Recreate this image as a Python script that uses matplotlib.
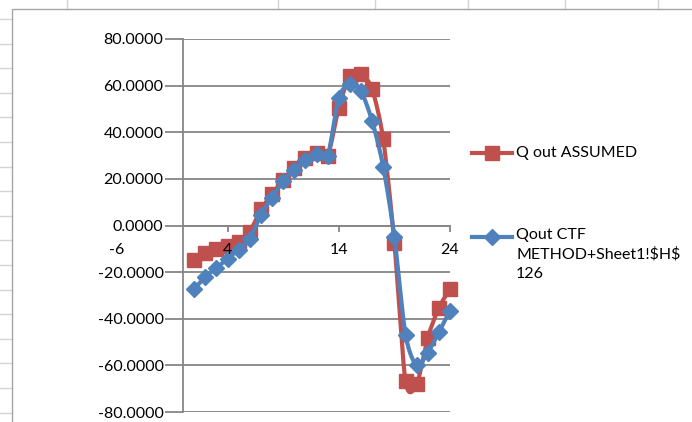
import numpy as np
import matplotlib.pyplot as plt
from matplotlib.lines import Line2D

plt.rcParams['font.family'] = ['Lato', 'DejaVu Sans']

# hourly values, hours 1..24
hours = list(range(1, 25))
q_assumed = [-14.6, -11.7, -10.0, -8.9, -7.2, -2.7, 6.9, 13.3, 19.7, 24.8, 29.0, 31.2,
             29.7, 50.5, 64.1, 65.2, 58.4, 36.9, -7.4, -66.8, -68.2, -48.2, -35.3, -27.2]
q_ctf = [-27.2, -22.0, -18.2, -14.3, -10.3, -6.0, 4.7, 11.9, 19.0, 24.0, 28.3, 30.5,
         29.7, 54.8, 60.5, 57.6, 44.8, 25.2, -4.9, -46.8, -60.0, -54.6, -45.8, -36.5]

y_ticks = [-80, -60, -40, -20, 0, 20, 40, 60, 80]
x_ticks = [-6, 4, 14, 24]

red = '#C0504D'
blue = '#4F81BD'
grid_col = '#868686'


def smooth(x, y, n=20, tension=0.8):
    # cardinal spline through the points, like a spreadsheet "smoothed line"
    x = np.asarray(x, float)
    y = np.asarray(y, float)
    px = np.r_[2 * x[0] - x[1], x, 2 * x[-1] - x[-2]]
    py = np.r_[2 * y[0] - y[1], y, 2 * y[-1] - y[-2]]
    t = np.linspace(0, 1, n, endpoint=False)
    h00 = 2 * t ** 3 - 3 * t ** 2 + 1
    h10 = t ** 3 - 2 * t ** 2 + t
    h01 = -2 * t ** 3 + 3 * t ** 2
    h11 = t ** 3 - t ** 2
    xs, ys = [], []
    for i in range(1, len(px) - 2):
        for p, out in ((px, xs), (py, ys)):
            m1 = tension * 0.5 * (p[i + 1] - p[i - 1])
            m2 = tension * 0.5 * (p[i + 2] - p[i])
            out.extend(h00 * p[i] + h10 * m1 + h01 * p[i + 1] + h11 * m2)
    xs.append(x[-1])
    ys.append(y[-1])
    return xs, ys


fig = plt.figure(figsize=(6.92, 4.22), dpi=100)

# spreadsheet cells behind the chart
for xp in [67, 278, 375, 468, 565, 658]:
    fig.add_artist(Line2D([xp / 692, xp / 692], [1, 1 - 9 / 422], color='#d4d4d4', lw=1))
for k in range(17):
    yp = 19 + k * 24.6
    fig.add_artist(Line2D([0, 12 / 692], [1 - yp / 422, 1 - yp / 422], color='#d4d4d4', lw=1))
fig.add_artist(Line2D([12 / 692, 12 / 692, 1], [0, 1 - 9 / 422, 1 - 9 / 422],
                      color='#a6a6a6', lw=1))

ax = fig.add_axes([183 / 692, 10 / 422, 267 / 692, 373 / 422])

ax.set_xlim(0, 24)
ax.set_ylim(-80, 80)
ax.set_yticks(y_ticks)
ax.set_yticklabels([f'{v:.4f}' for v in y_ticks])
ax.set_xticks([v for v in x_ticks if v >= 0])
ax.set_xticklabels([])

ax.yaxis.grid(True, color=grid_col, lw=1.3)
ax.set_axisbelow(True)
for s in ['top', 'right']:
    ax.spines[s].set_visible(False)
ax.spines['bottom'].set_position(('data', 0))
ax.spines['left'].set_color(grid_col)
ax.spines['bottom'].set_color(grid_col)
ax.spines['left'].set_linewidth(1.3)
ax.spines['bottom'].set_linewidth(1.3)

ax.tick_params(axis='y', length=13, width=1.3, color=grid_col, pad=1, labelsize=11.5)
ax.tick_params(axis='x', length=4, width=1.3, color=grid_col)

# x labels sit on top of the series, the first one falls left of the plot
for v in x_ticks:
    ax.text(v, -7.3, str(v), ha='center', va='top', fontsize=11.5, clip_on=False,
            zorder=6)

xs, ys = smooth(hours, q_assumed)
ax.plot(xs, ys, color=red, lw=3, zorder=3, clip_on=False)
ax.plot(hours, q_assumed, ls='none', marker='s', ms=10, color=red, zorder=3,
        clip_on=False)

xs, ys = smooth(hours, q_ctf)
ax.plot(xs, ys, color=blue, lw=3, zorder=4, clip_on=False)
ax.plot(hours, q_ctf, ls='none', marker='D', ms=8, color=blue, zorder=4,
        clip_on=False)

# legend entries
for yp, col, mk, ms in [(153, red, 's', 10), (237, blue, 'D', 8)]:
    yf = 1 - yp / 422
    fig.add_artist(Line2D([472 / 692, 512 / 692], [yf, yf], color=col, lw=3))
    fig.add_artist(Line2D([492 / 692], [yf], color=col, marker=mk, ms=ms, ls='none'))
fig.text(516 / 692, 1 - 153 / 422, 'Q out ASSUMED', va='center', fontsize=11.5)
fig.text(516 / 692, 1 - 228 / 422, 'Qout CTF\nMETHOD+Sheet1!$H$\n126', va='top',
         fontsize=11.5, linespacing=1.45, parse_math=False)

fig.savefig('out.png', dpi=100)
